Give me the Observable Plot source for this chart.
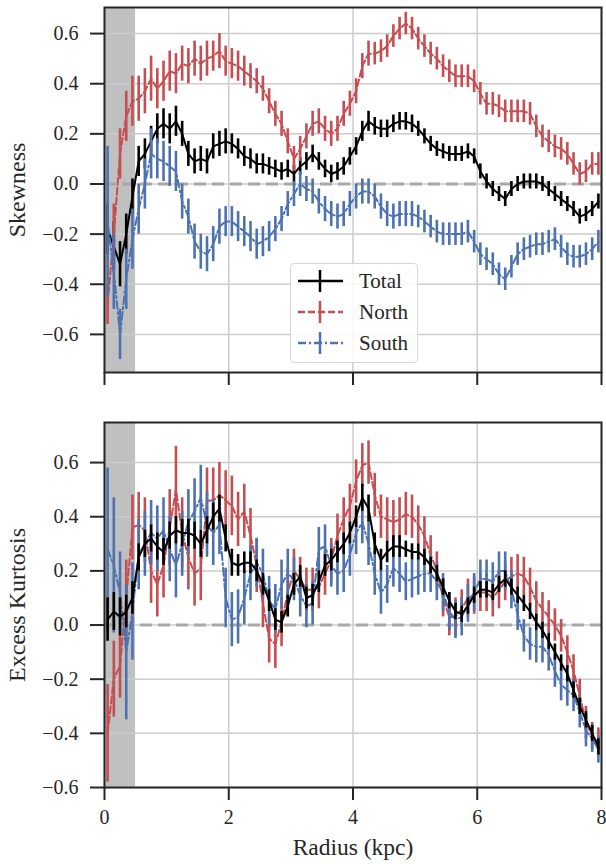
<!DOCTYPE html>
<html><head><meta charset="utf-8">
<script src="https://cdn.jsdelivr.net/npm/d3@7"></script>
<script src="https://cdn.jsdelivr.net/npm/@observablehq/plot@0.6"></script>
<style>
body{margin:0;background:#fff;}
#wrap{position:relative;width:606px;height:864px;font-family:"Liberation Serif","Times New Roman",serif;overflow:hidden;}
#wrap svg, #wrap svg text, #wrap svg g{font-family:"Liberation Serif","Times New Roman",serif !important;font-variant:normal !important;font-variant-numeric:normal !important;}
#top,#bottom{position:absolute;left:0;}
#top{top:0;}
#bottom{top:412px;}
#legend{position:absolute;left:290px;top:263px;width:126px;height:98px;border:1px solid #d6d6d6;border-radius:4px;background:rgba(255,255,255,0.85);}
</style></head>
<body><div id="wrap"><div id="top"></div><div id="bottom"></div><div id="legend"></div></div>
<script>
// ---- data ----
const radius = [0.05,0.15,0.25,0.35,0.45,0.55,0.65,0.75,0.85,0.95,
1.05,1.15,1.25,1.35,1.45,1.55,1.65,1.75,1.85,1.95,
2.05,2.15,2.25,2.35,2.45,2.55,2.65,2.75,2.85,2.95,
3.05,3.15,3.25,3.35,3.45,3.55,3.65,3.75,3.85,3.95,
4.05,4.15,4.25,4.35,4.45,4.55,4.65,4.75,4.85,4.95,
5.05,5.15,5.25,5.35,5.45,5.55,5.65,5.75,5.85,5.95,
6.05,6.15,6.25,6.35,6.45,6.55,6.65,6.75,6.85,6.95,
7.05,7.15,7.25,7.35,7.45,7.55,7.65,7.75,7.85,7.95];

const skewTotal = [-0.18,-0.25,-0.32,-0.2,-0.05,0.09,0.12,0.17,0.22,0.24,
0.22,0.25,0.2,0.12,0.09,0.1,0.09,0.15,0.16,0.17,
0.16,0.14,0.11,0.1,0.08,0.08,0.07,0.06,0.05,0.06,
0.04,0.07,0.09,0.12,0.09,0.06,0.04,0.05,0.07,0.11,
0.15,0.21,0.25,0.23,0.22,0.22,0.24,0.25,0.25,0.24,
0.22,0.19,0.16,0.14,0.13,0.12,0.12,0.12,0.13,0.11,
0.05,0.01,-0.02,-0.04,-0.06,-0.02,0,0.01,0.01,0.01,
0,-0.02,-0.04,-0.06,-0.08,-0.1,-0.13,-0.12,-0.1,-0.07];
const skewTotalErr = [0.1,0.1,0.09,0.08,0.07,0.06,0.06,0.06,0.06,0.06,
0.06,0.06,0.05,0.05,0.05,0.05,0.05,0.05,0.05,0.05,
0.04,0.04,0.04,0.04,0.04,0.04,0.035,0.035,0.035,0.035,
0.035,0.035,0.035,0.035,0.035,0.035,0.035,0.035,0.035,0.035,
0.035,0.04,0.04,0.035,0.035,0.035,0.035,0.035,0.035,0.035,
0.03,0.03,0.03,0.03,0.03,0.03,0.03,0.03,0.03,0.03,
0.03,0.03,0.03,0.03,0.03,0.03,0.03,0.03,0.03,0.03,
0.03,0.03,0.03,0.03,0.03,0.03,0.03,0.03,0.03,0.03];

const skewNorth = [-0.48,-0.2,0.12,0.27,0.33,0.34,0.37,0.42,0.38,0.41,
0.45,0.44,0.48,0.47,0.5,0.48,0.5,0.51,0.53,0.49,
0.48,0.47,0.45,0.43,0.41,0.38,0.33,0.28,0.24,0.17,
0.1,0.14,0.19,0.24,0.25,0.22,0.2,0.22,0.28,0.32,
0.37,0.47,0.52,0.52,0.53,0.55,0.59,0.62,0.64,0.62,
0.58,0.55,0.52,0.5,0.47,0.45,0.43,0.43,0.43,0.41,
0.36,0.32,0.32,0.31,0.29,0.29,0.29,0.29,0.28,0.23,
0.19,0.17,0.15,0.14,0.12,0.08,0.04,0.05,0.08,0.08];
const skewNorthErr = [0.08,0.12,0.1,0.1,0.1,0.09,0.09,0.09,0.08,0.08,
0.08,0.08,0.07,0.07,0.07,0.07,0.07,0.06,0.07,0.06,
0.06,0.06,0.06,0.05,0.05,0.05,0.05,0.05,0.05,0.05,
0.05,0.05,0.05,0.05,0.05,0.05,0.05,0.05,0.05,0.05,
0.05,0.05,0.05,0.045,0.045,0.045,0.045,0.045,0.045,0.045,
0.045,0.045,0.045,0.045,0.045,0.045,0.045,0.045,0.045,0.045,
0.045,0.045,0.045,0.045,0.045,0.045,0.045,0.045,0.045,0.045,
0.045,0.045,0.045,0.045,0.045,0.045,0.045,0.045,0.045,0.045];

const skewSouth = [-0.15,-0.35,-0.6,-0.38,-0.22,-0.1,0,0.12,0.1,0.09,
0.07,0.05,-0.07,-0.13,-0.23,-0.27,-0.28,-0.24,-0.17,-0.15,
-0.15,-0.17,-0.19,-0.21,-0.24,-0.23,-0.21,-0.18,-0.14,-0.08,
-0.04,0,-0.02,-0.03,-0.07,-0.1,-0.12,-0.13,-0.12,-0.08,
-0.05,-0.03,-0.03,-0.05,-0.09,-0.12,-0.13,-0.12,-0.12,-0.12,
-0.13,-0.15,-0.17,-0.19,-0.2,-0.2,-0.2,-0.2,-0.19,-0.23,
-0.28,-0.3,-0.32,-0.36,-0.38,-0.33,-0.28,-0.26,-0.25,-0.24,
-0.24,-0.23,-0.22,-0.25,-0.28,-0.29,-0.29,-0.28,-0.26,-0.23];
const skewSouthErr = [0.3,0.15,0.1,0.12,0.12,0.1,0.1,0.1,0.08,0.08,
0.08,0.08,0.07,0.07,0.07,0.07,0.07,0.07,0.07,0.06,
0.06,0.06,0.06,0.06,0.06,0.06,0.06,0.05,0.05,0.05,
0.05,0.05,0.05,0.05,0.05,0.05,0.05,0.05,0.05,0.05,
0.05,0.05,0.05,0.05,0.05,0.05,0.05,0.05,0.05,0.05,
0.045,0.045,0.045,0.045,0.045,0.045,0.045,0.045,0.045,0.045,
0.045,0.045,0.045,0.045,0.045,0.045,0.045,0.045,0.045,0.045,
0.045,0.045,0.045,0.045,0.045,0.045,0.045,0.045,0.045,0.045];

const kurtTotal = [0.02,0.05,0.03,0.05,0.1,0.25,0.3,0.32,0.29,0.27,
0.33,0.35,0.34,0.34,0.33,0.3,0.35,0.4,0.43,0.32,
0.23,0.22,0.23,0.23,0.2,0.15,0.09,0.02,0.01,0.07,
0.15,0.18,0.1,0.11,0.16,0.22,0.24,0.27,0.3,0.34,
0.4,0.47,0.43,0.3,0.24,0.27,0.29,0.29,0.28,0.27,
0.27,0.25,0.22,0.19,0.14,0.09,0.05,0.04,0.07,0.11,
0.13,0.13,0.12,0.15,0.17,0.14,0.11,0.08,0.05,0.01,
-0.02,-0.06,-0.1,-0.14,-0.18,-0.24,-0.3,-0.35,-0.4,-0.45];
const kurtTotalErr = [0.08,0.07,0.07,0.06,0.06,0.05,0.05,0.05,0.05,0.05,
0.05,0.05,0.05,0.05,0.05,0.05,0.05,0.05,0.05,0.05,
0.05,0.04,0.04,0.04,0.04,0.04,0.04,0.04,0.04,0.04,
0.04,0.04,0.04,0.04,0.04,0.04,0.04,0.04,0.04,0.04,
0.04,0.05,0.05,0.04,0.04,0.04,0.04,0.04,0.03,0.03,
0.03,0.03,0.03,0.03,0.03,0.03,0.03,0.03,0.03,0.03,
0.03,0.03,0.03,0.03,0.03,0.03,0.03,0.03,0.03,0.03,
0.03,0.03,0.03,0.03,0.03,0.03,0.03,0.03,0.03,0.03];

const kurtNorth = [-0.4,-0.2,-0.15,0.1,0.36,0.37,0.35,0.2,0.15,0.22,
0.36,0.5,0.34,0.25,0.19,0.21,0.46,0.46,0.48,0.46,
0.44,0.39,0.42,0.33,0.22,0.08,-0.05,-0.07,0.01,0.12,
0.2,0.17,0.13,0.13,0.14,0.19,0.24,0.33,0.39,0.44,
0.53,0.59,0.6,0.48,0.4,0.39,0.38,0.39,0.41,0.4,
0.37,0.33,0.26,0.2,0.1,0.03,0.03,0.06,0.1,0.11,
0.12,0.12,0.1,0.13,0.16,0.18,0.19,0.18,0.14,0.09,
0.06,0.03,0,-0.04,-0.1,-0.17,-0.26,-0.36,-0.41,-0.43];
const kurtNorthErr = [0.18,0.14,0.12,0.14,0.12,0.12,0.12,0.12,0.12,0.12,
0.14,0.16,0.13,0.12,0.12,0.12,0.12,0.12,0.12,0.11,
0.11,0.1,0.1,0.1,0.1,0.09,0.09,0.09,0.09,0.09,
0.08,0.08,0.08,0.08,0.08,0.08,0.08,0.08,0.08,0.08,
0.08,0.08,0.08,0.08,0.08,0.08,0.08,0.08,0.08,0.08,
0.07,0.07,0.07,0.07,0.07,0.07,0.07,0.07,0.07,0.07,
0.07,0.07,0.07,0.07,0.07,0.07,0.07,0.07,0.07,0.07,
0.06,0.06,0.06,0.06,0.06,0.06,0.06,0.06,0.05,0.05];

const kurtSouth = [0.28,0.22,0.12,-0.1,0.05,0.26,0.3,0.34,0.32,0.35,
0.28,0.22,0.3,0.38,0.42,0.47,0.37,0.34,0.37,0.1,
0.02,0.03,0.1,0.19,0.23,0.19,0.09,0.06,0.15,0.19,
0.17,0.11,0.07,0.08,0.28,0.29,0.22,0.19,0.2,0.26,
0.34,0.38,0.3,0.19,0.12,0.15,0.21,0.19,0.16,0.17,
0.18,0.19,0.19,0.16,0.12,0.05,0.02,0.03,0.08,0.12,
0.17,0.17,0.16,0.2,0.2,0.13,0.04,-0.04,-0.07,-0.08,
-0.08,-0.11,-0.17,-0.22,-0.24,-0.26,-0.32,-0.39,-0.42,-0.46];
const kurtSouthErr = [0.3,0.25,0.15,0.25,0.18,0.13,0.12,0.12,0.12,0.12,
0.12,0.12,0.12,0.12,0.12,0.12,0.12,0.12,0.11,0.11,
0.1,0.1,0.1,0.1,0.09,0.09,0.09,0.09,0.09,0.09,
0.08,0.08,0.08,0.08,0.08,0.08,0.08,0.08,0.08,0.08,
0.08,0.08,0.08,0.08,0.08,0.07,0.07,0.07,0.07,0.07,
0.07,0.07,0.07,0.07,0.07,0.07,0.07,0.07,0.07,0.07,
0.07,0.07,0.07,0.07,0.07,0.07,0.06,0.06,0.06,0.06,
0.06,0.06,0.06,0.06,0.06,0.06,0.06,0.06,0.05,0.05];

const radiusTicks = [0, 2, 4, 6, 8];
const statTicks = [-0.6, -0.4, -0.2, 0.0, 0.2, 0.4, 0.6];
const maskedRegion = [{from: 0, to: 0.5}];
const zeroLevel = [0];
const seriesNames = ["Total", "North", "South"];
const seriesColors = {Total: "#000000", North: "#c44e52", South: "#4c72b0"};
const seriesDash = {Total: null, North: "7,3", South: "8,3,2,3"};

// ---- build ----
const FONT = "Liberation Serif, Times New Roman, serif";
const INK = "#262626";

function rows(name, vals, errs) {
  return radius.map((r, i) => ({r, v: vals[i], e: errs[i], name}));
}

function seriesMarks(d) {
  const c = seriesColors[d[0].name];
  return [
    Plot.line(d, {x: "r", y: "v", stroke: c, strokeWidth: 2, strokeDasharray: seriesDash[d[0].name], clip: true}),
    Plot.ruleX(d, {x: "r", y1: (p) => p.v - p.e, y2: (p) => p.v + p.e, stroke: c, strokeWidth: 2.6, clip: true})
  ];
}

function panel({series, yDomain, yLabel, showX, marginTop, marginBottom}) {
  return Plot.plot({
    width: 606,
    height: marginTop + 365 + marginBottom,
    marginLeft: 104, marginRight: 5, marginTop, marginBottom,
    x: {domain: [0, 8]},
    y: {domain: yDomain},
    style: {fontFamily: FONT, fontSize: "20px", color: INK, background: "white", overflow: "visible"},
    marks: [
      Plot.rect(maskedRegion, {x1: "from", x2: "to", fill: "#8c8c8c", fillOpacity: 0.55}),
      Plot.gridY(statTicks, {stroke: "#cccccc", strokeOpacity: 1, strokeWidth: 1.5}),
      Plot.gridX(radiusTicks, {stroke: "#cccccc", strokeOpacity: 1, strokeWidth: 1.5}),
      Plot.ruleY(zeroLevel, {stroke: "#a8a8a8", strokeWidth: 3, strokeDasharray: "12,6"}),
      ...series.flatMap(seriesMarks),
      Plot.axisY(statTicks, {tickSize: 14, tickPadding: 12, tickFormat: d3.format(".1f"), fontSize: 20, fontFamily: FONT, fontVariant: "normal", stroke: INK, strokeWidth: 2, label: null}),
      Plot.axisY([], {label: yLabel, labelAnchor: "center", labelArrow: "none", labelOffset: 97, fontSize: 24, fontFamily: FONT, tickSize: 0}),
      Plot.axisX(radiusTicks, {tickSize: 13, tickPadding: 9, tickFormat: showX ? d3.format("d") : () => "", fontSize: 20, fontFamily: FONT, fontVariant: "normal", stroke: INK, strokeWidth: 2, label: null}),
      Plot.axisX([], {label: showX ? "Radius (kpc)" : null, labelAnchor: "center", labelArrow: "none", labelOffset: 67, fontSize: 23.5, fontFamily: FONT, tickSize: 0}),
      Plot.frame({stroke: INK, strokeWidth: 2})
    ]
  });
}

const topPlot = panel({
  series: [rows("Total", skewTotal, skewTotalErr), rows("North", skewNorth, skewNorthErr), rows("South", skewSouth, skewSouthErr)],
  yDomain: [-0.752, 0.704], yLabel: "Skewness", showX: false, marginTop: 7, marginBottom: 16
});
document.getElementById("top").appendChild(topPlot);

const bottomPlot = panel({
  series: [rows("North", kurtNorth, kurtNorthErr), rows("South", kurtSouth, kurtSouthErr), rows("Total", kurtTotal, kurtTotalErr)],
  yDomain: [-0.6, 0.748], yLabel: "Excess Kurtosis", showX: true, marginTop: 10, marginBottom: 77
});
document.getElementById("bottom").appendChild(bottomPlot);

// ---- legend ----
const lg = d3.select("#legend").append("svg").attr("width", 126).attr("height", 98);
seriesNames.forEach((n, i) => {
  const y = 17 + i * 31;
  const g = lg.append("g").attr("transform", `translate(0,${y})`);
  g.append("line").attr("x1", 7).attr("x2", 52).attr("y1", 0).attr("y2", 0)
    .attr("stroke", seriesColors[n]).attr("stroke-width", 2.5)
    .attr("stroke-dasharray", seriesDash[n]);
  g.append("line").attr("x1", 29).attr("x2", 29).attr("y1", -11).attr("y2", 11)
    .attr("stroke", seriesColors[n]).attr("stroke-width", 2.5);
  g.append("text").attr("x", 68).attr("y", 0).attr("dy", "0.35em")
    .attr("font-size", 21).attr("fill", INK).text(n);
});
</script></body></html>
